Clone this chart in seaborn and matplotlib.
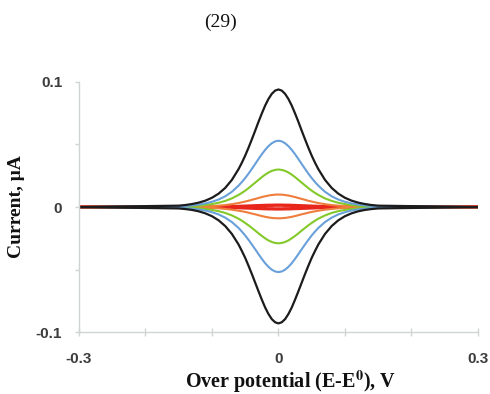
import matplotlib
matplotlib.use("Agg")
import matplotlib.pyplot as plt
import seaborn as sns
import pandas as pd
from matplotlib.ticker import FixedLocator, NullFormatter

# Over potential grid (V)
potential = [-0.30, -0.15, -0.14, -0.13, -0.12, -0.11, -0.10, -0.09, -0.08, -0.07,
             -0.060, -0.055, -0.050, -0.045, -0.040, -0.035, -0.030, -0.025, -0.020, -0.015,
             -0.010, -0.005, 0.000, 0.005, 0.010, 0.015, 0.020, 0.025, 0.030, 0.035,
             0.040, 0.045, 0.050, 0.055, 0.060,
             0.07, 0.08, 0.09, 0.10, 0.11, 0.12, 0.13, 0.14, 0.15, 0.30]

# Currents (uA)
black_ox = [0, 0.0011, 0.0016, 0.0024, 0.0035, 0.0051, 0.0074, 0.0107, 0.0153, 0.0217,
            0.0303, 0.0354, 0.0411, 0.0474, 0.0541, 0.0610, 0.0681, 0.0748, 0.0811, 0.0864,
            0.0905, 0.0931, 0.094, 0.0931, 0.0905, 0.0864, 0.0811, 0.0748, 0.0681, 0.0610,
            0.0541, 0.0474, 0.0411, 0.0354, 0.0303,
            0.0217, 0.0153, 0.0107, 0.0074, 0.0051, 0.0035, 0.0024, 0.0016, 0.0011, 0]
black_red = [0, -0.0011, -0.0016, -0.0023, -0.0034, -0.0050, -0.0073, -0.0106, -0.0152, -0.0215,
             -0.0299, -0.0351, -0.0406, -0.0469, -0.0535, -0.0604, -0.0673, -0.0740, -0.0803, -0.0855,
             -0.0896, -0.0921, -0.093, -0.0921, -0.0896, -0.0855, -0.0803, -0.0740, -0.0673, -0.0604,
             -0.0535, -0.0469, -0.0406, -0.0351, -0.0299,
             -0.0215, -0.0152, -0.0106, -0.0073, -0.0050, -0.0034, -0.0023, -0.0016, -0.0011, 0]
blue_ox = [0, 0.0006, 0.0009, 0.0013, 0.0020, 0.0029, 0.0042, 0.0060, 0.0086, 0.0122,
           0.0171, 0.0200, 0.0232, 0.0267, 0.0305, 0.0344, 0.0384, 0.0422, 0.0457, 0.0487,
           0.0510, 0.0525, 0.053, 0.0525, 0.0510, 0.0487, 0.0457, 0.0422, 0.0384, 0.0344,
           0.0305, 0.0267, 0.0232, 0.0200, 0.0171,
           0.0122, 0.0086, 0.0060, 0.0042, 0.0029, 0.0020, 0.0013, 0.0009, 0.0006, 0]
blue_red = [0, -0.0006, -0.0009, -0.0013, -0.0019, -0.0028, -0.0041, -0.0059, -0.0085, -0.0120,
            -0.0167, -0.0196, -0.0227, -0.0262, -0.0299, -0.0337, -0.0376, -0.0414, -0.0449, -0.0478,
            -0.0501, -0.0515, -0.052, -0.0515, -0.0501, -0.0478, -0.0449, -0.0414, -0.0376, -0.0337,
            -0.0299, -0.0262, -0.0227, -0.0196, -0.0167,
            -0.0120, -0.0085, -0.0059, -0.0041, -0.0028, -0.0019, -0.0013, -0.0009, -0.0006, 0]
green_ox = [0, 0.0003, 0.0005, 0.0008, 0.0011, 0.0016, 0.0024, 0.0034, 0.0049, 0.0069,
            0.0097, 0.0113, 0.0131, 0.0151, 0.0173, 0.0195, 0.0217, 0.0239, 0.0259, 0.0276,
            0.0289, 0.0297, 0.030, 0.0297, 0.0289, 0.0276, 0.0259, 0.0239, 0.0217, 0.0195,
            0.0173, 0.0151, 0.0131, 0.0113, 0.0097,
            0.0069, 0.0049, 0.0034, 0.0024, 0.0016, 0.0011, 0.0008, 0.0005, 0.0003, 0]
green_red = [0, -0.0003, -0.0005, -0.0007, -0.0011, -0.0016, -0.0023, -0.0033, -0.0047, -0.0067,
             -0.0093, -0.0109, -0.0127, -0.0146, -0.0167, -0.0188, -0.0210, -0.0231, -0.0250, -0.0267,
             -0.0279, -0.0287, -0.029, -0.0287, -0.0279, -0.0267, -0.0250, -0.0231, -0.0210, -0.0188,
             -0.0167, -0.0146, -0.0127, -0.0109, -0.0093,
             -0.0067, -0.0047, -0.0033, -0.0023, -0.0016, -0.0011, -0.0007, -0.0005, -0.0003, 0]
orange_ox = [0, 0.0001, 0.0002, 0.0003, 0.0004, 0.0005, 0.0008, 0.0011, 0.0016, 0.0023,
             0.0032, 0.0038, 0.0044, 0.0050, 0.0058, 0.0065, 0.0072, 0.0080, 0.0086, 0.0092,
             0.0096, 0.0099, 0.010, 0.0099, 0.0096, 0.0092, 0.0086, 0.0080, 0.0072, 0.0065,
             0.0058, 0.0050, 0.0044, 0.0038, 0.0032,
             0.0023, 0.0016, 0.0011, 0.0008, 0.0005, 0.0004, 0.0003, 0.0002, 0.0001, 0]
orange_red = [0, -0.0001, -0.0002, -0.0002, -0.0003, -0.0005, -0.0007, -0.0010, -0.0015, -0.0021,
              -0.0029, -0.0034, -0.0039, -0.0045, -0.0052, -0.0058, -0.0065, -0.0072, -0.0078, -0.0083,
              -0.0087, -0.0089, -0.009, -0.0089, -0.0087, -0.0083, -0.0078, -0.0072, -0.0065, -0.0058,
              -0.0052, -0.0045, -0.0039, -0.0034, -0.0029,
              -0.0021, -0.0015, -0.0010, -0.0007, -0.0005, -0.0003, -0.0002, -0.0002, -0.0001, 0]
red_ox = [0, 0, 0, 0, 0, 0.0001, 0.0001, 0.0002, 0.0002, 0.0003,
          0.0005, 0.0006, 0.0007, 0.0008, 0.0009, 0.0010, 0.0011, 0.0012, 0.0013, 0.0014,
          0.0014, 0.0015, 0.0015, 0.0015, 0.0014, 0.0014, 0.0013, 0.0012, 0.0011, 0.0010,
          0.0009, 0.0008, 0.0007, 0.0006, 0.0005,
          0.0003, 0.0002, 0.0002, 0.0001, 0.0001, 0, 0, 0, 0, 0]
red_red = [0, 0, 0, 0, 0, -0.0001, -0.0001, -0.0002, -0.0002, -0.0003,
           -0.0005, -0.0006, -0.0007, -0.0008, -0.0009, -0.0010, -0.0011, -0.0012, -0.0013, -0.0014,
           -0.0014, -0.0015, -0.0015, -0.0015, -0.0014, -0.0014, -0.0013, -0.0012, -0.0011, -0.0010,
           -0.0009, -0.0008, -0.0007, -0.0006, -0.0005,
           -0.0003, -0.0002, -0.0002, -0.0001, -0.0001, 0, 0, 0, 0, 0]

x_ticks = [-0.3, 0.0, 0.3]
x_tick_labels = ["-0.3", "0", "0.3"]
x_minor = [-0.2, -0.1, 0.1, 0.2]
y_ticks = [-0.1, 0.0, 0.1]
y_tick_labels = ["-0.1", "0", "0.1"]
y_minor = [-0.05, 0.05]

series = [
    ("red", red_ox, red_red, "#e8261c", 2.4),
    ("orange", orange_ox, orange_red, "#ef7d3c", 1.5),
    ("green", green_ox, green_red, "#84c92a", 1.5),
    ("blue", blue_ox, blue_red, "#69a0da", 1.5),
    ("black", black_ox, black_red, "#1c1c1c", 1.6),
]

sns.set_theme(style="white")
plt.rcParams["font.family"] = ["Liberation Serif", "DejaVu Serif"]
plt.rcParams["mathtext.fontset"] = "stix"

fig = plt.figure(figsize=(4.9, 3.94), dpi=100)
ax = fig.add_axes([0.161, 0.157, 0.8145, 0.635])

for name, ox, rd, col, lw in series:
    for branch, vals in (("ox", ox), ("red", rd)):
        df = pd.DataFrame({"E": potential, "I": vals})
        sns.lineplot(data=df, x="E", y="I", ax=ax, color=col, lw=lw,
                     estimator=None, sort=False)

ax.set_xlim(-0.3, 0.3)
ax.set_ylim(-0.1, 0.1)
ax.set_xticks(x_ticks)
ax.set_xticklabels(x_tick_labels)
ax.set_yticks(y_ticks)
ax.set_yticklabels(y_tick_labels)
ax.xaxis.set_minor_locator(FixedLocator(x_minor))
ax.yaxis.set_minor_locator(FixedLocator(y_minor))
ax.xaxis.set_minor_formatter(NullFormatter())
ax.yaxis.set_minor_formatter(NullFormatter())

for s in ["top", "right"]:
    ax.spines[s].set_visible(False)
for s in ["left", "bottom"]:
    ax.spines[s].set_color("#d0d4d4")
    ax.spines[s].set_linewidth(1.0)

ax.tick_params(axis="x", which="both", direction="inout", length=6, width=1.0,
               color="#d0d4d4", bottom=True, pad=11)
ax.tick_params(axis="y", which="both", direction="out", length=3, width=1.0,
               color="#d0d4d4", left=True, pad=9)
for lab in ax.get_xticklabels() + ax.get_yticklabels():
    lab.set_family(["Liberation Sans", "DejaVu Sans"])
    lab.set_fontweight("bold")
    lab.set_fontsize(11)
    lab.set_color("#3c3c3c")

ax.set_xlabel("")
ax.set_ylabel("")
fig.text(0.594, 0.017, r"Over potential (E-E$^{\mathbf{0}}$), V", ha="center", va="baseline",
         fontsize=14.5, fontweight="bold", color="#111111")
fig.text(0.034, 0.475, "Current, μA", ha="center", va="center", rotation=90,
         fontsize=14, fontweight="bold", color="#111111")
fig.text(0.449, 0.944, "(29)", ha="center", va="center", fontsize=14, color="#111111")

fig.savefig("out.png", dpi=100)
